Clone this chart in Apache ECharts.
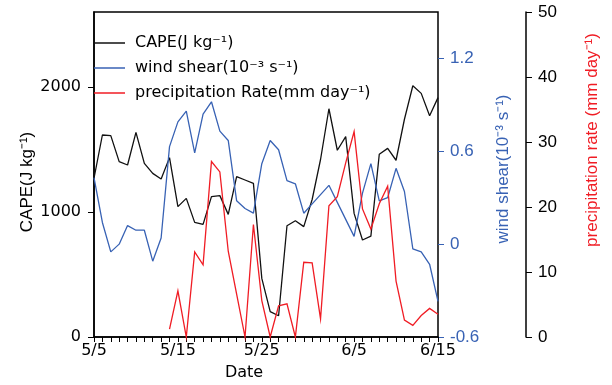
<!DOCTYPE html>
<html>
<head>
<meta charset="utf-8">
<script src="https://cdn.jsdelivr.net/npm/echarts@6/dist/echarts.min.js"></script>
<style>html,body{margin:0;padding:0;background:#fff;}#c{width:612px;height:385px;}</style>
</head>
<body>
<div id="c"></div>
<script>
var dates = ["5/5","5/6","5/7","5/8","5/9","5/10","5/11","5/12","5/13","5/14","5/15","5/16","5/17","5/18","5/19","5/20","5/21","5/22","5/23","5/24","5/25","5/26","5/27","5/28","5/29","5/30","5/31","6/1","6/2","6/3","6/4","6/5","6/6","6/7","6/8","6/9","6/10","6/11","6/12","6/13","6/14","6/15"];
var dateLabels = ["5/5","5/15","5/25","6/5","6/15"];
var cape = [1270,1616,1611,1403,1376,1637,1389,1309,1264,1435,1043,1109,917,901,1123,1131,981,1283,1256,1229,469,203,170,890,930,883,1100,1420,1826,1494,1603,989,776,807,1462,1509,1414,1742,2010,1949,1770,1915];
var windShear = [0.43,0.14,-0.05,0.00,0.12,0.09,0.09,-0.11,0.04,0.63,0.79,0.86,0.59,0.84,0.92,0.73,0.67,0.28,0.23,0.20,0.52,0.67,0.61,0.41,0.39,0.20,0.26,0.32,0.38,0.27,0.16,0.05,0.33,0.52,0.28,0.30,0.49,0.34,-0.03,-0.05,-0.13,-0.37];
var precip = [null,null,null,null,null,null,null,null,null,1.2,7.1,0,13.1,11.1,27.0,25.4,13.2,6.6,0,17.3,5.6,0,4.8,5.1,0,11.5,11.4,2.8,20.2,21.6,26.8,31.6,19.7,16.6,20.5,23.2,8.6,2.6,1.8,3.3,4.4,3.5];
var capeTicks = [0,1000,2000];
var windTicks = [-0.6,0,0.6,1.2];
var names = ["CAPE(J kg\u207B\u00B9)","wind shear(10\u207B\u00B3 s\u207B\u00B9)","precipitation Rate(mm day\u207B\u00B9)"];

var BLUE = '#3862b4', RED = '#f01c24', BLACK = '#111';
var plain = function (v) { return String(v); };
var chart = echarts.init(document.getElementById('c'));
chart.setOption({
  animation: false,
  backgroundColor: '#fff',
  grid: {left: 94, top: 12, right: 174, bottom: 48, show: true, borderColor: '#000', borderWidth: 1.5, backgroundColor: 'transparent'},
  legend: {
    orient: 'vertical', left: 94, top: 35, padding: 0,
    itemWidth: 31, itemHeight: 1.5, itemGap: 9, icon: 'rect',
    textStyle: {fontFamily: 'DejaVu Sans', fontSize: 16, color: '#000', lineHeight: 16, padding: [0,0,0,5]},
    data: names
  },
  xAxis: {
    type: 'category', data: dates, boundaryGap: false,
    axisLine: {lineStyle: {color: '#000', width: 1.5}},
    axisTick: {interval: 0, length: 5, lineStyle: {color: '#000', width: 1}},
    axisLabel: {
      interval: function (i, v) { return dateLabels.indexOf(v) >= 0; },
      fontFamily: 'DejaVu Sans', fontSize: 16, color: '#000', margin: 6
    },
    splitLine: {show: false}
  },
  yAxis: [
    {
      type: 'value', position: 'left', min: 0, max: 2600,
      axisLine: {show: true, lineStyle: {color: '#000', width: 1.5}},
      axisTick: {show: true, length: 6, customValues: capeTicks, lineStyle: {color: '#000'}},
      axisLabel: {customValues: capeTicks, formatter: plain, fontFamily: 'DejaVu Sans', fontSize: 16, color: '#000', margin: 13},
      splitLine: {show: false}
    },
    {
      type: 'value', position: 'right', min: -0.6, max: 1.5,
      axisLine: {show: false},
      axisTick: {show: true, length: 6, customValues: windTicks, lineStyle: {color: BLUE}},
      axisLabel: {customValues: windTicks, formatter: plain, fontFamily: 'Liberation Sans', fontSize: 17, color: BLUE, margin: 12},
      splitLine: {show: false}
    },
    {
      type: 'value', position: 'right', offset: 88, min: 0, max: 50, interval: 10,
      axisLine: {show: true, lineStyle: {color: '#000', width: 1.5}},
      axisTick: {show: true, length: 6, lineStyle: {color: '#000'}},
      axisLabel: {formatter: plain, fontFamily: 'Liberation Sans', fontSize: 17, color: '#000', margin: 12},
      splitLine: {show: false}
    }
  ],
  series: [
    {name: names[0], type: 'line', yAxisIndex: 0, data: cape, showSymbol: false, color: BLACK, lineStyle: {color: BLACK, width: 1.3}},
    {name: names[1], type: 'line', yAxisIndex: 1, data: windShear, showSymbol: false, color: BLUE, lineStyle: {color: BLUE, width: 1.3}},
    {name: names[2], type: 'line', yAxisIndex: 2, data: precip, showSymbol: false, clip: false, color: RED, lineStyle: {color: RED, width: 1.3, join: 'miter', miterLimit: 10}}
  ],
  graphic: [
    {type: 'text', x: 27, y: 182, rotation: Math.PI / 2, style: {text: 'CAPE(J kg\u207B\u00B9)', font: '17px "Liberation Sans"', fill: '#000', textAlign: 'center', textVerticalAlign: 'middle', verticalAlign: 'middle'}},
    {type: 'text', x: 503, y: 169, rotation: Math.PI / 2, style: {text: 'wind shear(10\u207B\u00B3 s\u207B\u00B9)', font: '17px "Liberation Sans"', fill: BLUE, textAlign: 'center', textVerticalAlign: 'middle', verticalAlign: 'middle'}},
    {type: 'text', x: 592, y: 140, rotation: Math.PI / 2, style: {text: 'precipitation rate (mm day\u207B\u00B9)', font: '17px "Liberation Sans"', fill: RED, textAlign: 'center', textVerticalAlign: 'middle', verticalAlign: 'middle'}},
    {type: 'text', x: 244, y: 373, style: {text: 'Date', font: '16px "DejaVu Sans"', fill: '#000', textAlign: 'center', textVerticalAlign: 'middle', verticalAlign: 'middle'}}
  ]
});
</script>
</body>
</html>
